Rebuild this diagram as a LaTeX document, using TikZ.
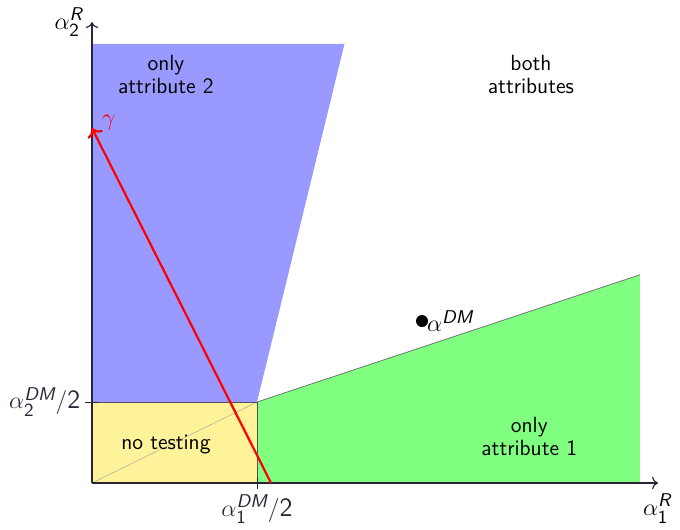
\documentclass[tikz,border=0pt]{standalone}
\usepackage{amsmath}
\usepackage{tikz}
\usetikzlibrary{arrows.meta,positioning}
\definecolor{fillblu}{RGB}{153,153,255}
\definecolor{fillgrn}{RGB}{128,255,128}
\definecolor{fillyel}{RGB}{255,243,153}
\definecolor{axiscol}{RGB}{45,35,55}
\newcommand{\alR}[1]{\alpha_{\textsf{#1}}^{\textsf{\itshape R}}}
\newcommand{\alDM}[1]{\alpha_{\textsf{#1}}^{\textsf{\itshape DM}}}

\begin{document}
\begin{tikzpicture}[x=82.5pt,y=40.5pt,>=To,font=\sffamily]
\useasboundingbox (-0.5576,-0.568) rectangle (3.5636,5.963);
\tikzset{region/.style={align=center,font=\sffamily\fontsize{11}{11.5}\selectfont},
  axlab/.style={font=\fontsize{13.2}{15}\selectfont}}
\coordinate (O) at (0,0);
\coordinate (H) at (1,1);
\coordinate (Hx) at (1,0);
\coordinate (Hy) at (0,1);
\coordinate (Bt) at (1.53,5.42);
\coordinate (Bl) at (0,5.42);
\coordinate (Gt) at (3.32,2.57);
\coordinate (Gb) at (3.32,0);
% regions
\fill[fillyel] (O) rectangle (H);
\fill[fillblu] (Hy) -- (H) -- (Bt) -- (Bl) -- cycle;
\fill[fillgrn] (Hx) -- (H) -- (Gt) -- (Gb) -- cycle;
\draw[gray!90!black,thin] (H) -- (Gt);
\draw[gray!80,very thin] (O) -- (H);
\draw[axiscol!80,thin] (Hy) -- (H) -- (Hx);
% axes
\coordinate (Xend) at (3.43,0);
\coordinate (Yend) at (0,5.69);
\draw[axiscol,semithick,->] (O) -- (Xend);
\draw[axiscol,semithick,->] (O) -- (Yend);
\node[axlab,below right=2pt and -11pt] (xlab) at (Xend) {$\alR{1}$};
\node[axlab,left=1pt] (ylab) at (Yend) {$\alR{2}$};
\draw[axiscol] (1,0.08) -- (1,-0.08) node[axlab,below=-1pt] (xtick) {$\alDM{1}/\textsf{2}$};
\draw[axiscol] (0.04,1) -- (-0.04,1) node[axlab,left=-1pt] (ytick) {$\alDM{2}/\textsf{2}$};
% gamma
\coordinate (Gs) at (1.085,0);
\coordinate (Ge) at (0,4.38);
\draw[red,line width=1.1pt,->] (Gs) -- (Ge) node[above right=-5pt and 1pt,font=\fontsize{13.2}{15}\selectfont] (gam) {$\gamma$};
% alpha DM
\fill (2,2) circle (3pt) coordinate (aDM);
\node[axlab,right=-1pt] (aDMlab) at (aDM) {$\alpha^{\textsf{\itshape DM}}$};
% region names
\node[region] (r2) at (0.448,5.04) {only\\attribute 2};
\node[region] (rb) at (2.66,5.04) {both\\attributes};
\node[region] (r0) at (0.448,0.48) {no testing};
\node[region] (r1) at (2.65,0.58) {only\\attribute 1};
\end{tikzpicture}
\end{document}
